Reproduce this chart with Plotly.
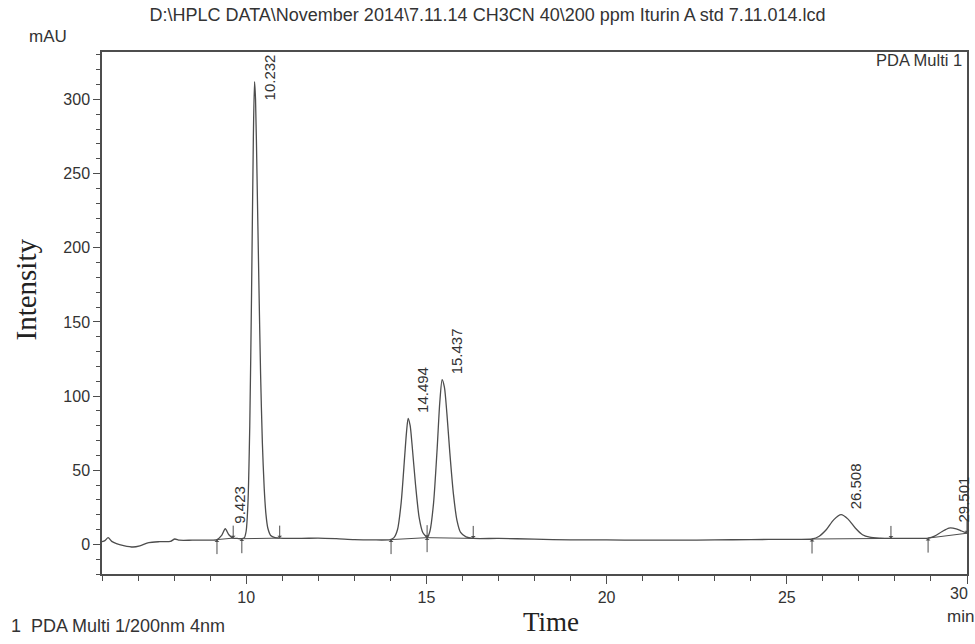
import plotly.graph_objects as go

# ---- data ----
time_min = [6.00, 6.08, 6.17, 6.27, 6.40, 6.60, 6.86, 7.05, 7.30, 7.60, 7.90, 8.02, 8.15, 8.50, 8.90,
            9.19, 9.32, 9.42, 9.52, 9.64, 9.75, 9.88,
            9.95, 10.00, 10.05, 10.10, 10.15, 10.20, 10.232, 10.26, 10.30, 10.35, 10.40, 10.45, 10.50,
            10.55, 10.60, 10.68, 10.80, 10.93,
            11.50, 12.00, 12.50, 13.00, 13.50,
            14.00, 14.10, 14.20, 14.30, 14.40, 14.45, 14.494, 14.55, 14.60, 14.70, 14.80, 14.90, 15.00,
            15.02, 15.10, 15.20, 15.30, 15.37, 15.437, 15.50, 15.57, 15.65, 15.75, 15.85, 15.95, 16.10, 16.30,
            17.00, 18.00, 19.00, 20.00, 21.00, 22.00, 23.00, 24.00, 25.00,
            25.70, 25.90, 26.10, 26.30, 26.508, 26.70, 26.90, 27.10, 27.30, 27.60, 27.89,
            28.30, 28.92, 29.10, 29.30, 29.501, 29.70, 29.85, 30.00]
intensity_mau = [1.8, 2.5, 4.5, 2.0, 0.5, -0.8, -1.8, -1.0, 1.2, 1.8, 2.0, 3.6, 2.8, 2.8, 2.9,
                 3.2, 6.0, 10.5, 6.5, 4.2, 4.0, 3.8,
                 4.5, 9.0, 28.0, 80.0, 170.0, 275.0, 312.0, 300.0, 250.0, 180.0, 115.0, 68.0, 38.0,
                 20.0, 11.0, 6.0, 4.5, 4.2,
                 4.0, 4.2, 3.8, 3.2, 3.0,
                 3.2, 4.5, 10.0, 28.0, 60.0, 76.0, 85.0, 80.0, 68.0, 40.0, 18.0, 8.0, 5.0,
                 4.5, 9.0, 28.0, 65.0, 95.0, 111.0, 106.0, 88.0, 62.0, 34.0, 16.0, 8.0, 5.0, 4.0,
                 4.0, 3.5, 3.0, 3.0, 2.8, 2.8, 3.0, 3.2, 3.4,
                 3.6, 5.5, 10.0, 16.5, 20.0, 17.0, 11.0, 6.5, 4.8, 4.2, 4.0,
                 4.0, 4.2, 5.5, 8.5, 11.0, 10.5, 9.0, 7.5]

peak_times = [9.423, 10.232, 14.494, 15.437, 26.508, 29.501]
peak_heights = [10.5, 312.0, 85.0, 111.0, 20.0, 11.0]
peak_labels = ["9.423", "10.232", "14.494", "15.437", "26.508", "29.501"]

int_start_t = [9.19, 9.88, 14.02, 15.02, 25.70, 28.92]
int_start_y = [3.2, 3.8, 3.2, 4.5, 3.6, 4.2]
int_end_t = [9.64, 10.93, 15.02, 16.30, 27.89, 30.00]
int_end_y = [4.2, 4.2, 4.5, 4.0, 4.0, 7.5]

x_ticks = [10, 15, 20, 25, 30]
y_ticks = [0, 50, 100, 150, 200, 250, 300]

LINE = "#4d4d4d"
TXT = "#333333"
SANS = "Liberation Sans, Arial, sans-serif"
SERIF = "Liberation Serif, Times New Roman, serif"

fig = go.Figure()

fig.add_trace(go.Scatter(x=time_min, y=intensity_mau, mode="lines",
                         line=dict(color=LINE, width=1.3, shape="spline", smoothing=0.7),
                         hoverinfo="skip", showlegend=False))

# integration baselines
bx, by = [], []
for xs, ys, xe, ye in zip(int_start_t, int_start_y, int_end_t, int_end_y):
    bx += [xs, xe, None]
    by += [ys, ye, None]
fig.add_trace(go.Scatter(x=bx, y=by, mode="lines", line=dict(color=LINE, width=1),
                         hoverinfo="skip", showlegend=False))

ann = []
# integration start (up) / end (down) markers
for t, v in zip(int_start_t, int_start_y):
    ann.append(dict(x=t, y=v, xref="x", yref="y", text="", showarrow=True, ax=0, ay=16,
                    arrowhead=1, arrowsize=0.8, arrowwidth=1, arrowcolor=LINE))
for t, v in zip(int_end_t, int_end_y):
    ann.append(dict(x=t, y=v, xref="x", yref="y", text="", showarrow=True, ax=0, ay=-14,
                    arrowhead=1, arrowsize=0.8, arrowwidth=1, arrowcolor=LINE))

# peak labels
for t, h, lab in zip(peak_times, peak_heights, peak_labels):
    ann.append(dict(x=t, y=min(h, 296), xref="x", yref="y", text=lab, showarrow=False,
                    textangle=-90, xanchor="left", yanchor="bottom", xshift=4, yshift=3,
                    font=dict(family=SANS, size=15, color=TXT)))

# last x tick label sits flush with the right frame (as in the original)
ann.append(dict(x=x_ticks[-1], y=0, xref="x", yref="paper", text=str(x_ticks[-1]), showarrow=False,
                xanchor="right", yanchor="top", yshift=-9, xshift=3,
                font=dict(family=SANS, size=16, color=TXT)))

paper = dict(xref="paper", yref="paper", showarrow=False)
ann += [
    dict(text="mAU", x=-0.062, y=1.029, xanchor="center", yanchor="middle",
         font=dict(family=SANS, size=17, color=TXT), **paper),
    dict(text="PDA Multi 1", x=0.997, y=0.985, xanchor="right", yanchor="middle",
         font=dict(family=SANS, size=16.5, color=TXT), **paper),
    dict(text="min", x=0.993, y=-0.082, xanchor="center", yanchor="middle",
         font=dict(family=SANS, size=17, color=TXT), **paper),
    dict(text="1  PDA Multi 1/200nm 4nm", x=-0.108, y=-0.1, xanchor="left", yanchor="middle",
         font=dict(family=SANS, size=18, color=TXT), **paper),
    dict(text="Time", x=0.519, y=-0.092, xanchor="center", yanchor="middle",
         font=dict(family=SERIF, size=27, color="#222"), **paper),
    dict(text="Intensity", x=-0.089, y=0.545, xanchor="center", yanchor="middle", textangle=-90,
         font=dict(family=SERIF, size=29, color="#222"), **paper),
]

fig.update_layout(
    width=975, height=644,
    margin=dict(l=102, r=6, t=52, b=70),
    paper_bgcolor="white", plot_bgcolor="white",
    title=dict(text="D:\\HPLC DATA\\November 2014\\7.11.14 CH3CN 40\\200 ppm Iturin A std 7.11.014.lcd",
               x=0.5, xref="container", xanchor="center", y=0.977, yref="container", yanchor="middle",
               font=dict(family=SANS, size=18, color=TXT)),
    annotations=ann,
    showlegend=False,
)

fig.update_xaxes(range=[6, 30], tickvals=x_ticks,
                 ticktext=[str(v) for v in x_ticks[:-1]] + [""],
                 ticks="outside", ticklen=8, tickwidth=1.2, tickcolor=LINE,
                 minor=dict(dtick=1, tick0=0, ticks="outside", ticklen=5, tickwidth=1, tickcolor=LINE),
                 showline=True, linecolor=LINE, linewidth=1.5, mirror=True,
                 showgrid=False, zeroline=False,
                 tickfont=dict(family=SANS, size=16, color=TXT))
fig.update_yaxes(range=[-20, 332], tickvals=y_ticks, ticktext=[str(v) for v in y_ticks],
                 ticks="outside", ticklen=7, tickwidth=1.2, tickcolor=LINE,
                 minor=dict(dtick=10, tick0=0, ticks="outside", ticklen=4, tickwidth=1, tickcolor=LINE),
                 showline=True, linecolor=LINE, linewidth=1.5, mirror=True,
                 showgrid=False, zeroline=False,
                 tickfont=dict(family=SANS, size=16, color=TXT))

fig.write_html("out.html", config={"displayModeBar": False},
               post_script="document.body.style.margin='0';document.body.style.overflow='hidden';")
